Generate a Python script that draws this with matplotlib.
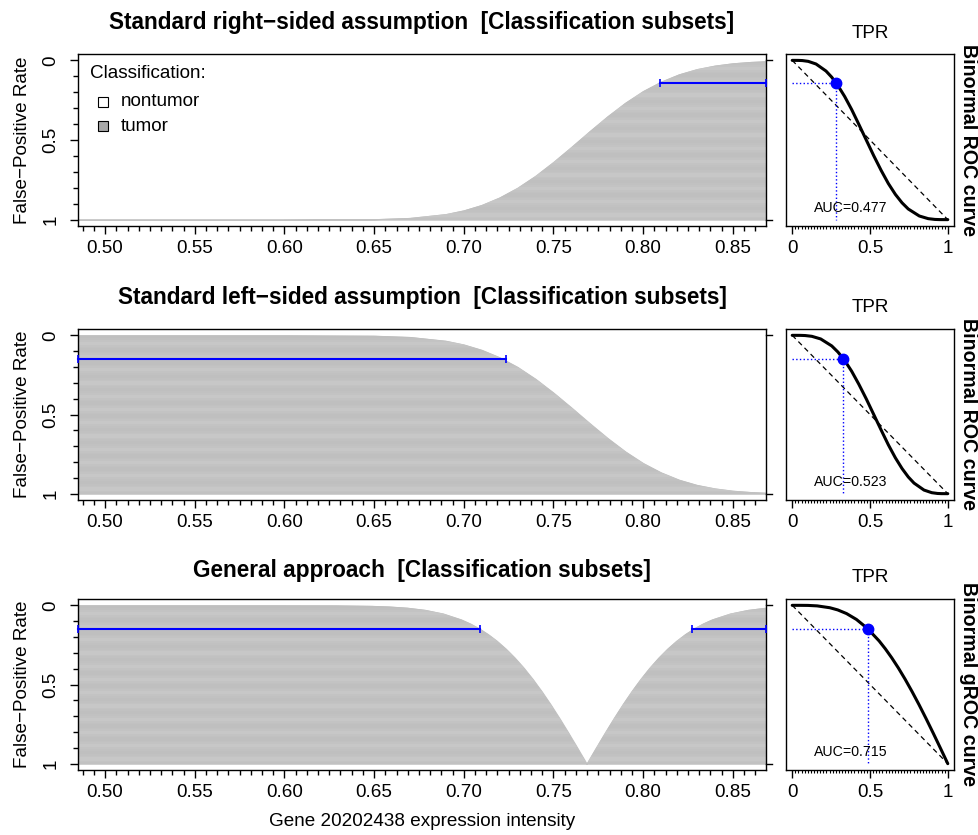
import numpy as np
import matplotlib.pyplot as plt
from matplotlib.transforms import blended_transform_factory

plt.rcParams['font.family'] = ['Liberation Sans', 'DejaVu Sans']

W, H = 979, 835
FS = 13.6
FS_BIG = 16.3
FS_SIDE = 14.1

# expression-intensity cut-offs and FPR of the boundary
x_std = [0.4849, 0.60, 0.65, 0.67, 0.69, 0.70, 0.71, 0.72, 0.73, 0.74, 0.75, 0.76,
         0.77, 0.78, 0.79, 0.80, 0.81, 0.82, 0.83, 0.84, 0.85, 0.86, 0.8685]
fpr_right = [1.0, 1.0, 0.9974, 0.9894, 0.9654, 0.9421, 0.9081, 0.861, 0.800, 0.725,
             0.638, 0.544, 0.447, 0.353, 0.267, 0.193, 0.134, 0.088, 0.055, 0.033,
             0.0185, 0.010, 0.0056]
fpr_left = [0.0, 0.0, 0.0026, 0.0106, 0.0346, 0.0579, 0.0919, 0.139, 0.200, 0.275,
            0.362, 0.456, 0.553, 0.647, 0.733, 0.807, 0.866, 0.912, 0.945, 0.967,
            0.9815, 0.990, 0.9944]
x_gen = [0.4849, 0.5985, 0.6285, 0.6485, 0.6585, 0.6685, 0.6785, 0.6885, 0.6985,
         0.7035, 0.7085, 0.7135, 0.7185, 0.7235, 0.7285, 0.7335, 0.7385, 0.7435,
         0.7485, 0.7535, 0.7585, 0.7635, 0.7685, 0.7735, 0.7785, 0.7835, 0.7885,
         0.7935, 0.7985, 0.8035, 0.8085, 0.8135, 0.8185, 0.8235, 0.8285, 0.8335,
         0.8385, 0.8485, 0.8585, 0.8685]
fpr_gen = [0.0, 0.0001, 0.0005, 0.0035, 0.0076, 0.0152, 0.0289, 0.0521, 0.0892,
           0.1146, 0.1453, 0.1819, 0.2249, 0.2747, 0.3316, 0.3955, 0.4665, 0.5440,
           0.6273, 0.7157, 0.8082, 0.9034, 1.0, 0.9034, 0.8082, 0.7157, 0.6273,
           0.5440, 0.4665, 0.3955, 0.3316, 0.2747, 0.2249, 0.1819, 0.1453, 0.1146,
           0.0892, 0.0521, 0.0289, 0.0152]

# classification subsets at the chosen FPR (blue segments)
seg_right = [(0.8094, 0.8685)]
seg_left = [(0.4849, 0.7235)]
seg_gen = [(0.4849, 0.7090), (0.8275, 0.8685)]
fpr_cut = [0.145, 0.148, 0.150]

# binormal ROC curves (TPR, FPR)
fpr_roc = [0, 0.0002, 0.0013, 0.0062, 0.0228, 0.0668, 0.1056, 0.1587, 0.2266, 0.3085,
           0.4013, 0.5, 0.5987, 0.6915, 0.7734, 0.8413, 0.8944, 0.9332, 0.9772, 0.9938,
           0.9987, 0.9998, 1.0]
tpr_roc_right = [0, 0.040, 0.066, 0.103, 0.153, 0.217, 0.254, 0.294, 0.337, 0.382, 0.428,
                 0.476, 0.524, 0.572, 0.618, 0.663, 0.706, 0.746, 0.817, 0.874, 0.917,
                 0.948, 1.0]
tpr_roc_left = [0, 0.052, 0.083, 0.126, 0.183, 0.254, 0.294, 0.337, 0.382, 0.428, 0.476,
                0.524, 0.572, 0.618, 0.663, 0.706, 0.746, 0.783, 0.847, 0.897, 0.934,
                0.960, 1.0]
tpr_groc = [0, 0.0101, 0.0468, 0.1015, 0.1604, 0.2421, 0.2924, 0.3494, 0.4129, 0.4827,
            0.5587, 0.5986, 0.6399, 0.6823, 0.7257, 0.7700, 0.8151, 0.8607, 0.9069,
            0.9534, 1.0]
fpr_groc = [0, 0.0, 0.0, 0.0005, 0.0035, 0.0152, 0.0289, 0.0521, 0.0892, 0.1453, 0.2249,
            0.2747, 0.3316, 0.3955, 0.4665, 0.5440, 0.6273, 0.7157, 0.8082, 0.9034, 1.0]
cut_tpr = [0.284, 0.329, 0.485]
auc = [0.477, 0.523, 0.715]

titles = ['Standard right\u2212sided assumption  [Classification subsets]',
          'Standard left\u2212sided assumption  [Classification subsets]',
          'General approach  [Classification subsets]']
roc_names = ['Binormal ROC curve', 'Binormal ROC curve', 'Binormal gROC curve']

rows = [(54, 226), (329, 500), (599, 770)]
title_y = [22, 297, 571]
XLIM = (0.4849, 0.8685)
YLIM = (1.04, -0.04)
stripe_pattern = [0.748, 0.748, 0.755, 0.768, 0.778, 0.778, 0.768, 0.755]

fig = plt.figure(figsize=(W / 100, H / 100), dpi=100)


def px_axes(l, t, r, b):
    return fig.add_axes([l / W, 1 - b / H, (r - l) / W, (b - t) / H])


main_data = [(x_std, fpr_right, seg_right), (x_std, fpr_left, seg_left), (x_gen, fpr_gen, seg_gen)]
roc_data = [(tpr_roc_right, fpr_roc), (tpr_roc_left, fpr_roc), (tpr_groc, fpr_groc)]

for i, (top, bot) in enumerate(rows):
    ax = px_axes(78, top, 766, bot)
    xs, fp, segs = main_data[i]
    poly = ax.fill_between(xs, fp, 1, color='#c2c2c2', lw=0.8, edgecolor='#c2c2c2', zorder=1)
    # horizontal striping of the subsets
    shades = np.array(stripe_pattern * 12)[:, None]
    im = ax.imshow(shades, cmap='gray', vmin=0, vmax=1, extent=(XLIM[0], XLIM[1], 1, 0),
                   aspect='auto', interpolation='nearest', origin='upper', zorder=1.5)
    im.set_clip_path(poly.get_paths()[0], transform=ax.transData)
    for x0, x1 in segs:
        ax.plot([x0, x1], [fpr_cut[i], fpr_cut[i]], color='blue', lw=1.5, clip_on=False, zorder=3)
        ax.plot([x0, x1], [fpr_cut[i], fpr_cut[i]], ls='none', marker='|', ms=6,
                mew=1.2, color='blue', clip_on=False, zorder=3)
    ax.set_xlim(*XLIM)
    ax.set_ylim(*YLIM)
    ax.set_xticks(np.arange(0.50, 0.851, 0.05))
    ax.set_xticklabels([f'{v:.2f}' for v in np.arange(0.50, 0.851, 0.05)])
    ax.set_xticks(np.arange(0.4875, 0.8686, 0.00625), minor=True)
    ax.set_yticks([0, 0.5, 1])
    ax.set_yticklabels(['0', '0.5', '1'])
    ax.set_yticks(np.arange(0, 1.01, 0.1), minor=True)
    ax.tick_params(axis='both', which='major', length=5.5, width=1, labelsize=FS)
    ax.tick_params(axis='both', which='minor', length=3.5, width=1)
    ax.tick_params(axis='x', pad=4.5)
    ax.tick_params(axis='y', pad=8)
    for lbl in ax.get_yticklabels():
        lbl.set_rotation(90)
        lbl.set_va('center')
    for s in ax.spines.values():
        s.set_linewidth(1.0)
    tr = blended_transform_factory(ax.transAxes, ax.transData)
    for yv in (0, 1):
        ax.plot([1, 1.008], [yv, yv], color='black', lw=1, transform=tr, clip_on=False)
    ax.set_ylabel('False\u2212Positive Rate', fontsize=FS)
    ax.yaxis.set_label_coords(-0.069, 0.5)
    fig.text(422 / W, 1 - title_y[i] / H, titles[i], fontsize=FS_BIG, fontweight='bold',
             ha='center', va='center')

    if i == 0:
        ax.text(0.0174, 0.8895, 'Classification:', transform=ax.transAxes, fontsize=FS,
                ha='left', va='center')
        ax.plot([0.0363], [0.721], transform=ax.transAxes, marker='s', ms=6.5,
                mfc='white', mec='black', mew=0.8, ls='none')
        ax.plot([0.0363], [0.581], transform=ax.transAxes, marker='s', ms=6.5,
                mfc='#a9a9a9', mec='black', mew=0.8, ls='none')
        ax.text(0.0625, 0.721, 'nontumor', transform=ax.transAxes, fontsize=FS,
                ha='left', va='center')
        ax.text(0.0625, 0.581, 'tumor', transform=ax.transAxes, fontsize=FS,
                ha='left', va='center')

    # ROC panel
    rx = px_axes(786, top, 954, bot)
    tpr, fpr = roc_data[i]
    rx.plot([0, 1], [0, 1], color='black', ls=(0, (4, 3)), lw=0.9)
    rx.plot(tpr, fpr, color='black', lw=2.2, solid_capstyle='round')
    rx.plot([0, cut_tpr[i]], [fpr_cut[i], fpr_cut[i]], color='blue', ls=':', lw=1)
    rx.plot([cut_tpr[i], cut_tpr[i]], [fpr_cut[i], 1], color='blue', ls=':', lw=1)
    rx.plot([cut_tpr[i]], [fpr_cut[i]], marker='o', ms=7.5, color='blue', ls='none')
    rx.text(0.375, 0.925, f'AUC={auc[i]:.3f}', fontsize=10.2, ha='center', va='center')
    rx.set_xlim(-0.04, 1.04)
    rx.set_ylim(*YLIM)
    rx.set_yticks([])
    rx.set_xticks([0, 0.5, 1])
    rx.set_xticklabels(['0', '0.5', '1'])
    rx.set_xticks(np.arange(0, 1.001, 0.02), minor=True)
    rx.tick_params(axis='x', which='major', length=5.5, width=1, labelsize=FS, pad=4.5)
    rx.tick_params(axis='x', which='minor', length=2.5, width=0.8)
    for s in rx.spines.values():
        s.set_linewidth(1.0)
    fig.text(870 / W, 1 - (top - 21) / H, 'TPR', fontsize=FS, ha='center', va='center')
    fig.text(969 / W, 1 - ((top + bot) / 2) / H, roc_names[i], fontsize=FS_SIDE,
             fontweight='bold', rotation=270, ha='center', va='center')

fig.text(422 / W, 1 - 822 / H, 'Gene 20202438 expression intensity', fontsize=FS,
         ha='center', va='center')

fig.savefig('out.png', dpi=100)
